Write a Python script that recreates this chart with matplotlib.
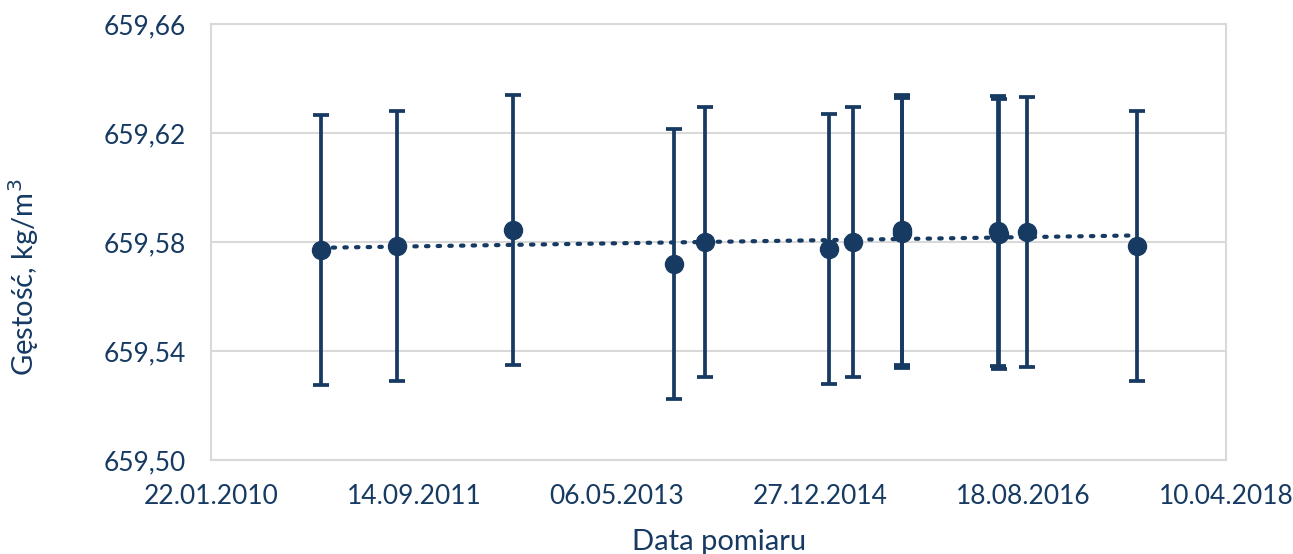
import matplotlib

matplotlib.use("Agg")
import matplotlib.dates as mdates
import matplotlib.pyplot as plt
import numpy as np
from matplotlib.ticker import FuncFormatter, MultipleLocator

NAVY = "#163A62"
GRID = "#D9D9D9"

# measurement dates and density readings, kg/m3
dates = np.array([
    "2010-12-13", "2011-07-27", "2012-07-03", "2013-10-22", "2014-01-21",
    "2015-01-23", "2015-04-04", "2015-08-25", "2015-08-27", "2016-06-06",
    "2016-06-09", "2016-08-30", "2017-07-21",
], dtype="datetime64[D]")
density = np.array([
    659.5771, 659.5785, 659.5844, 659.5719, 659.5800,
    659.5774, 659.5800, 659.5844, 659.5833, 659.5840,
    659.5830, 659.5837, 659.5785,
])
uncertainty = np.array([0.0496] * 13)

y_ticks = [659.50, 659.54, 659.58, 659.62, 659.66]

plt.rcParams["font.family"] = ["Lato", "DejaVu Sans"]

fig = plt.figure(figsize=(12.93, 5.54), dpi=100)
ax = fig.add_axes([0.1632, 0.1697, 0.785, 0.787])

x = mdates.date2num(dates.astype("datetime64[ms]").astype(object))

ax.errorbar(x, density, yerr=uncertainty, fmt="o", color=NAVY, ms=13,
            elinewidth=2.7, capsize=5.5, capthick=2.7, zorder=3)

# linear trend across the measurement period
coef = np.polyfit(x, density, 1)
xt = np.array([x.min(), x.max()])
ax.plot(xt, np.polyval(coef, xt), linestyle=(0, (0.6, 2.2)), color=NAVY,
        lw=3, dash_capstyle="round", zorder=4)

start = mdates.date2num(np.datetime64("2010-01-22").astype(object))
end = mdates.date2num(np.datetime64("2018-04-10").astype(object))
ax.set_xlim(start, end)
ax.xaxis.set_major_locator(MultipleLocator(600, offset=start % 600))
ax.xaxis.set_major_formatter(mdates.DateFormatter("%d.%m.%Y"))

ax.set_ylim(659.50, 659.66)
ax.set_yticks(y_ticks)
ax.yaxis.set_major_formatter(FuncFormatter(lambda v, _: f"{v:.2f}".replace(".", ",")))

ax.grid(axis="y", color=GRID, lw=1.5)
ax.set_axisbelow(True)
for s in ax.spines.values():
    s.set_color(GRID)
    s.set_linewidth(1.5)
ax.tick_params(length=0, labelsize=19, labelcolor=NAVY)
ax.tick_params(axis="x", pad=17)
ax.tick_params(axis="y", pad=18)

fig.text(0.018, 0.50, "Gęstość, kg/m$^3$", rotation=90, ha="center", va="center",
         fontsize=21, color=NAVY)
fig.text(0.556, 0.022, "Data pomiaru", ha="center", va="center",
         fontsize=21, color=NAVY)

fig.savefig("out.png", dpi=100)
